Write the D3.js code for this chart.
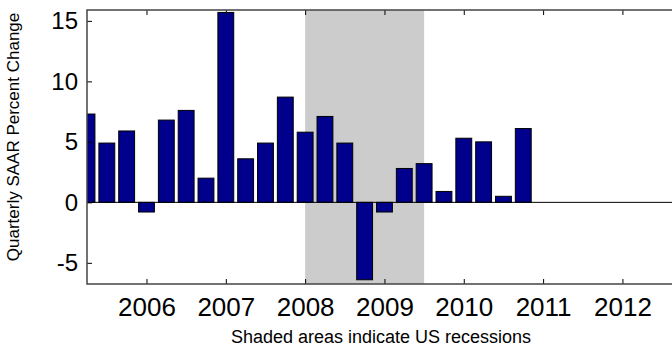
<!DOCTYPE html>
<html><head><meta charset="utf-8">
<script src="https://cdn.jsdelivr.net/npm/d3@7"></script>
<style>body{margin:0;background:#fff}svg{display:block}</style>
</head><body><div id="chart"></div>
<script>
const quarters = ["2005Q2","2005Q3","2005Q4","2006Q1","2006Q2","2006Q3","2006Q4","2007Q1","2007Q2","2007Q3","2007Q4","2008Q1","2008Q2","2008Q3","2008Q4","2009Q1","2009Q2","2009Q3","2009Q4","2010Q1","2010Q2","2010Q3","2010Q4"];
const values = [7.3,4.9,5.9,-0.8,6.8,7.6,2.0,15.7,3.6,4.9,8.7,5.8,7.1,4.9,-6.4,-0.8,2.8,3.2,0.9,5.3,5.0,0.5,6.1];
const xTicks = [2006,2007,2008,2009,2010,2011,2012];
const yTicks = [-5,0,5,10,15];
const recessions = [[2008.0, 2009.5]];
const yTitle = "Quarterly SAAR Percent Change";
const note = "Shaded areas indicate US recessions";

const W = 672, H = 350;
const L = 87, T = 10, B = 284, R = 672;
const svg = d3.select("#chart").append("svg").attr("width", W).attr("height", H);
const x = d3.scaleLinear().domain([2005.25, 2012.625]).range([L, R]);
const y = d3.scaleLinear().domain([-6.75, 15.9]).range([B, T]);
const qPos = q => +q.slice(0,4) + (+q.slice(5) - 1) / 4;

svg.append("clipPath").attr("id","clip").append("rect")
  .attr("x", L).attr("y", T).attr("width", R - L).attr("height", B - T);
const g = svg.append("g").attr("clip-path","url(#clip)");

g.selectAll("rect.rec").data(recessions).join("rect").attr("class","rec")
  .attr("x", d => x(d[0])).attr("y", T)
  .attr("width", d => x(d[1]) - x(d[0])).attr("height", B - T)
  .attr("fill", "#cccccc");

const bw = (x(2005.5) - x(2005.25)) * 0.8;
g.selectAll("rect.bar").data(quarters).join("rect").attr("class","bar")
  .attr("x", (d,i) => x(qPos(d)) - bw/2)
  .attr("y", (d,i) => y(Math.max(0, values[i])))
  .attr("width", bw)
  .attr("height", (d,i) => Math.abs(y(values[i]) - y(0)))
  .attr("fill", "#00008c").attr("stroke", "#000").attr("stroke-width", 1);

g.append("line").attr("x1", L).attr("x2", R).attr("y1", y(0)).attr("y2", y(0))
  .attr("stroke", "#000").attr("stroke-width", 1);

// axes
const xb = svg.append("g").attr("transform", `translate(0,${B})`)
  .call(d3.axisBottom(x).tickValues(xTicks).tickSize(-5).tickPadding(14).tickFormat(d3.format("d")));
const xt = svg.append("g").attr("transform", `translate(0,${T})`)
  .call(d3.axisTop(x).tickValues(xTicks).tickSize(-5).tickFormat(""));
const yl = svg.append("g").attr("transform", `translate(${L},0)`)
  .call(d3.axisLeft(y).tickValues(yTicks).tickSize(-5).tickPadding(9).tickFormat(d => String(d)));
[xb, xt, yl].forEach(a => {
  a.select(".domain").remove();
  a.selectAll(".tick line").attr("stroke", "#000");
  a.selectAll("text").attr("fill", "#000").attr("font-family", "Liberation Sans, Arial, sans-serif");
});
xb.selectAll("text").attr("font-size", 26).attr("dy", "0.71em");
yl.selectAll("text").attr("font-size", 24);

// box
svg.append("path").attr("d", `M${R},${T}H${L}V${B}H${R}`)
  .attr("fill", "none").attr("stroke", "#444").attr("stroke-width", 1.5);

svg.append("text").attr("transform", "translate(19,137) rotate(-90)")
  .attr("text-anchor", "middle").attr("font-family", "Liberation Sans, Arial, sans-serif")
  .attr("font-size", 17).attr("fill", "#000").text(yTitle);
svg.append("text").attr("x", 381).attr("y", 343)
  .attr("text-anchor", "middle").attr("font-family", "Liberation Sans, Arial, sans-serif")
  .attr("font-size", 18).attr("fill", "#000").text(note);
</script></body></html>
